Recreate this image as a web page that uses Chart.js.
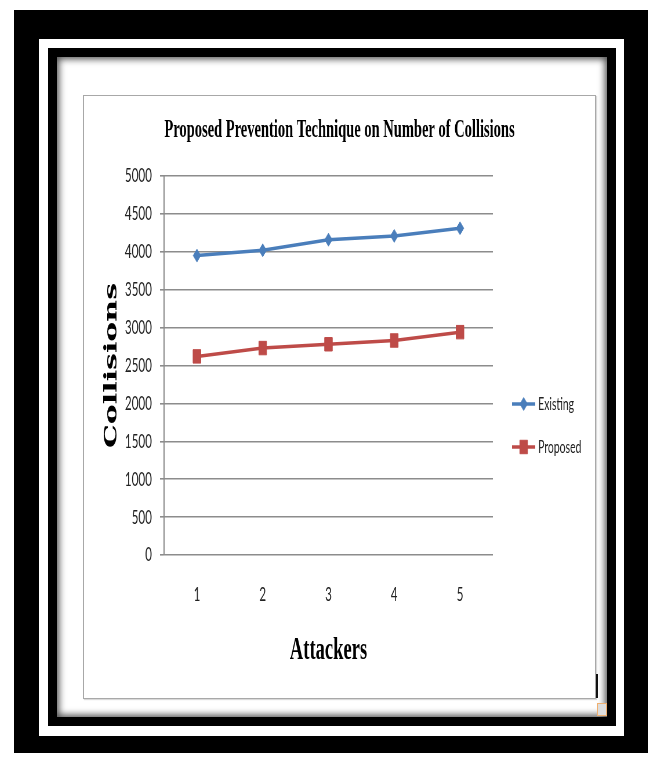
<!DOCTYPE html>
<html>
<head>
<meta charset="utf-8">
<script src="https://cdn.jsdelivr.net/npm/chart.js@4.4.0/dist/chart.umd.min.js"></script>
<style>
  html, body { margin: 0; padding: 0; background: #fff; }
  body { width: 656px; height: 760px; position: relative; overflow: hidden; }
  .box { position: absolute; box-sizing: border-box; }
  #outer { left: 14px; top: 10px; width: 634px; height: 743px; background: #000; }
  #band { left: 39px; top: 39px; width: 585px; height: 697px; background: #fff; }
  #inner { left: 48px; top: 48px; width: 568px; height: 678px; background: #000; }
  #panel { left: 57px; top: 57px; width: 550px; height: 660px; background: #fff;
           box-shadow: inset 0 0 7px 2px rgba(0,0,0,0.7); }
  #plotBox { left: 83px; top: 95px; width: 513px; height: 604px; border: 1px solid #a8a8a8;
             box-shadow: 1px 1px 1px rgba(0,0,0,0.15); }
  #tick { left: 596px; top: 674px; width: 2px; height: 24px; background: #111; }
  #icon { left: 597px; top: 703px; width: 10px; height: 13px; border: 1px solid #f0b070; background: #ddd; }
  #wrap { position: absolute; left: 84px; top: 96px; transform: scaleX(0.58); transform-origin: 0 0; }
</style>
</head>
<body>
<div class="box" id="outer"></div>
<div class="box" id="band"></div>
<div class="box" id="inner"></div>
<div class="box" id="panel"></div>
<div class="box" id="plotBox"></div>
<div class="box" id="tick"></div>
<div class="box" id="icon"></div>
<div id="wrap"><canvas id="grafico" width="881" height="602"></canvas></div>

<script>
// dados
var attackers = ['1', '2', '3', '4', '5'];
var existing = [3950, 4020, 4160, 4210, 4310];
var proposed = [2620, 2730, 2780, 2830, 2940];
var seriesNames = ['Existing', 'Proposed'];
var yMin = 0, yMax = 5000, yStep = 500;

var blue = '#4A7EBB';
var red = '#BE4B48';
var tickFont = { family: "Lato, 'Liberation Sans', sans-serif", size: 20 };

// legenda desenhada a mao, com linha + marcador
var legendaPlugin = {
  id: 'legendaLinha',
  afterDraw: function(chart) {
    var ctx = chart.ctx;
    var ys = [308, 351];
    chart.data.datasets.forEach(function(ds, i) {
      var y = ys[i];
      ctx.save();
      ctx.strokeStyle = ds.borderColor;
      ctx.fillStyle = ds.backgroundColor;
      ctx.lineWidth = ds.borderWidth;
      ctx.beginPath();
      ctx.moveTo(738, y);
      ctx.lineTo(778, y);
      ctx.stroke();
      ctx.lineWidth = 1;
      Chart.helpers.drawPoint(ctx, {
        pointStyle: ds.pointStyle, radius: ds.pointRadius, borderWidth: 1, rotation: 0
      }, 758, y);
      ctx.fillStyle = '#222';
      ctx.font = "18px Lato, 'Liberation Sans', sans-serif";
      ctx.textAlign = 'left';
      ctx.textBaseline = 'middle';
      ctx.fillText(ds.label, 783, y);
      ctx.restore();
    });
  }
};

var config = {
  type: 'line',
  data: {
    labels: attackers,
    datasets: [{
      label: seriesNames[0],
      data: existing,
      borderColor: blue,
      backgroundColor: blue,
      borderWidth: 3.5,
      pointStyle: 'rectRot',
      pointRadius: 6.5,
      pointBorderWidth: 1,
      tension: 0
    }, {
      label: seriesNames[1],
      data: proposed,
      borderColor: red,
      backgroundColor: red,
      borderWidth: 3.5,
      pointStyle: 'rect',
      pointRadius: 9.5,
      pointBorderWidth: 1,
      tension: 0
    }]
  },
  options: {
    responsive: false,
    animation: false,
    devicePixelRatio: 1,
    plugins: {
      legend: { display: false },
      tooltip: { enabled: false },
      title: {
        display: true,
        text: 'Proposed Prevention Technique on Number of Collisions',
        color: '#000',
        font: { family: "'Liberation Serif', serif", size: 25, weight: 'bold' },
        padding: { top: 20, bottom: 30 }
      }
    },
    scales: {
      x: {
        offset: true,
        grid: { display: false, drawTicks: false },
        border: { display: false },
        ticks: { color: '#222', font: tickFont, padding: 28 },
        title: {
          display: true,
          text: 'Attackers',
          color: '#000',
          font: { family: "'Liberation Serif', serif", size: 32, weight: 'bold' },
          padding: { top: 0, bottom: 28 }
        },
        afterFit: function(scale) { scale.height = 143; }
      },
      y: {
        min: yMin,
        max: yMax,
        ticks: {
          stepSize: yStep, color: '#222', font: tickFont, padding: 14,
          callback: function(v) { return String(v); }
        },
        grid: { color: '#8c8c8c', lineWidth: 1.6, tickLength: 7 },
        border: { display: true, color: '#8c8c8c', width: 2 },
        title: {
          display: true,
          text: 'Collisions',
          color: '#000',
          font: { family: "'DejaVu Serif', serif", size: 30, weight: 'bold' },
          padding: { top: 30, bottom: 0 }
        },
        afterFit: function(scale) { scale.width = 138; }
      },
      // eixo vazio so para reservar o espaco da legenda
      espaco: {
        type: 'linear',
        position: 'right',
        grid: { display: false },
        border: { display: false },
        ticks: { display: false },
        afterFit: function(scale) { scale.width = 176; }
      }
    }
  },
  plugins: [legendaPlugin]
};

window.onload = function() {
  var ctx = document.getElementById('grafico').getContext('2d');
  window.meuGrafico = new Chart(ctx, config);
};
</script>
</body>
</html>
